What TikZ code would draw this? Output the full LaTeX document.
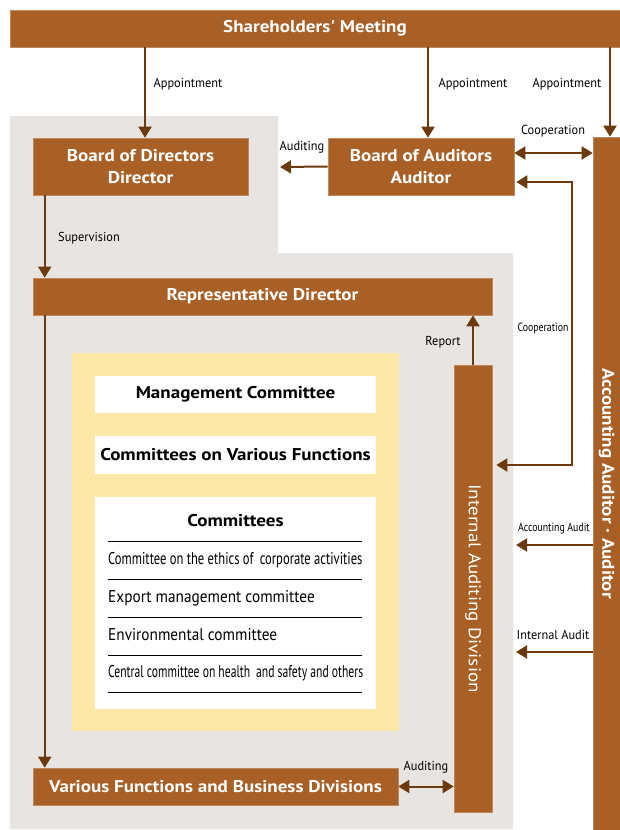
\documentclass[tikz,border=0pt]{standalone}
\usepackage{fontspec}
\setmainfont{PT Sans}
\newfontfamily\boxfont[FakeStretch=1.12]{PT Sans}
\newfontfamily\lblfont[FakeStretch=0.95]{PT Sans}
\newfontfamily\narrowfont[FakeStretch=0.82]{PT Sans}
\newfontfamily\entryfont[FakeStretch=0.9]{PT Sans}
\newfontfamily\tightfont[FakeStretch=0.74]{PT Sans}
\newfontfamily\tighterfont[FakeStretch=0.685]{PT Sans}
\usetikzlibrary{arrows.meta}
\definecolor{boxbrown}{RGB}{168,96,38}
\definecolor{arrbrown}{RGB}{107,58,15}
\definecolor{bggray}{RGB}{232,228,225}
\definecolor{paleyellow}{RGB}{253,232,168}

\begin{document}
\begin{tikzpicture}[x=1pt,y=-1pt,
  box/.style={fill=boxbrown,draw=boxbrown!75!white,line width=0.6pt,text=white,align=center,inner sep=0pt,font=\boxfont\bfseries\fontsize{17}{22}\selectfont},
  wbox/.style={fill=white,inner sep=0pt,font=\boxfont\bfseries\fontsize{17}{20}\selectfont},
  arr/.style={draw=arrbrown,line width=2pt,-{Triangle[width=13pt,length=11pt]}},
  darr/.style={draw=arrbrown,line width=2pt,{Triangle[width=13pt,length=11pt]}-{Triangle[width=13pt,length=11pt]}},
  lbl/.style={inner sep=0pt,font=\lblfont\fontsize{13}{15}\selectfont},
  slbl/.style={inner sep=0pt,font=\narrowfont\fontsize{12}{14}\selectfont},
  entry/.style={anchor=west,inner sep=0pt,font=\entryfont\fontsize{17}{19}\selectfont},
  tentry/.style={anchor=west,inner sep=0pt,font=\tightfont\fontsize{17}{19}\selectfont}]
\useasboundingbox (0,0) rectangle (620,830);
\fill [bggray] (10,116) -- (278,116) -- (278,253) -- (513,253) -- (513,829) -- (10,829) -- cycle;
\fill [paleyellow] (72,353) rectangle (399,731);

\node [box,minimum width=610,minimum height=37] (share) at (315,28.5) {Shareholders' Meeting};
\node [box,minimum width=215,minimum height=57] (bod) at (140.5,166.5) {Board of Directors\\Director};
\node [box,minimum width=186,minimum height=57] (boa) at (421,166.5) {Board of Auditors\\Auditor};
\node [box,rotate=-90,minimum width=693,minimum height=27] (acc) at (606.5,483.5) {Accounting Auditor · Auditor};
\node [box,minimum width=459,minimum height=37] (rep) at (262.5,296.5) {Representative Director};
\node [box,rotate=-90,minimum width=447,minimum height=38,font=\boxfont\fontsize{17}{20}\selectfont] (iad) at (473,588.5) {Internal Auditing Division};
\node [box,minimum width=365,minimum height=37] (vf) at (215.5,786.5) {Various Functions and Business Divisions};

\node [wbox,minimum width=281,minimum height=37] (mc) at (235.5,394.5) {Management Committee};
\node [wbox,minimum width=281,minimum height=38] (cvf) at (235.5,455) {Committees on Various Functions};
\node [wbox,minimum width=281,minimum height=212] (com) at (235.5,603) {};
\node [wbox,fill=none] (comt) at (235.5,521) {Committees};
\foreach \y in {541,579,617,655,692}
  \draw [line width=1pt] (108,\y) -- (362,\y);
\node [tentry] (e1) at (108,560) {Committee on the ethics of\, corporate activities};
\node [entry] (e2) at (108,598) {Export management committee};
\node [entry] (e3) at (108,635) {Environmental committee};
\node [tentry,font=\tighterfont\fontsize{17}{19}\selectfont] (e4) at (108,673) {Central committee on health\, and safety and others};

\path ([xshift=4.5pt]bod.north) coordinate (bodin)
      ([xshift=7pt]boa.north) coordinate (boain)
      ([xshift=3.5pt]acc.west) coordinate (accin);
\draw [arr] (share.south -| bodin) -- (bodin);
\draw [arr] (share.south -| boain) -- (boain);
\draw [arr] (share.south -| accin) -- (accin);
\node [lbl] (ap1) at (188,84) {Appointment};
\node [lbl] (ap2) at (473,84) {Appointment};
\node [lbl] (ap3) at (567,84) {Appointment};

\coordinate (audtip) at (280,167);
\draw [arr] (boa.west) -- (audtip);
\node [lbl] (aud1) at (302,147) {Auditing};
\path ([yshift=13.5pt]boa.east) coordinate (coopa)
      ([yshift=-15.5pt]boa.east) coordinate (coopb)
      ([yshift=123.5pt]iad.north) coordinate (coopc);
\draw [darr] (coopa) -- (coopa -| acc.south);
\node [lbl] (coop1) at (553,131) {Cooperation};
\draw [darr,shorten <=2pt,shorten >=4pt] (coopb) -- ++(58pt,0) |- (coopc);
\node [slbl] (coop2) at (543,328) {Cooperation};

\path ([xshift=12pt]rep.north west) coordinate (supx);
\draw [arr] (supx |- bod.south) -- (supx);
\node [lbl] (sup) at (89,238) {Supervision};
\draw [arr] (supx |- rep.south) -- (supx |- vf.north);

\draw [arr] (iad.west) -- (iad.west |- rep.south);
\node [lbl] (rpt) at (443,342) {Report};
\draw [darr] (vf.east) -- (vf.east -| iad.south);
\node [lbl] (aud2) at (426,767) {Auditing};

\coordinate (aatip) at (516,545);
\coordinate (iatip) at (516,652);
\draw [arr] (aatip -| acc.south) -- (aatip);
\node [slbl] (aa) at (554,528) {Accounting Audit};
\draw [arr] (iatip -| acc.south) -- (iatip);
\node [lbl] (ia) at (553,635) {Internal Audit};
\end{tikzpicture}
\end{document}
